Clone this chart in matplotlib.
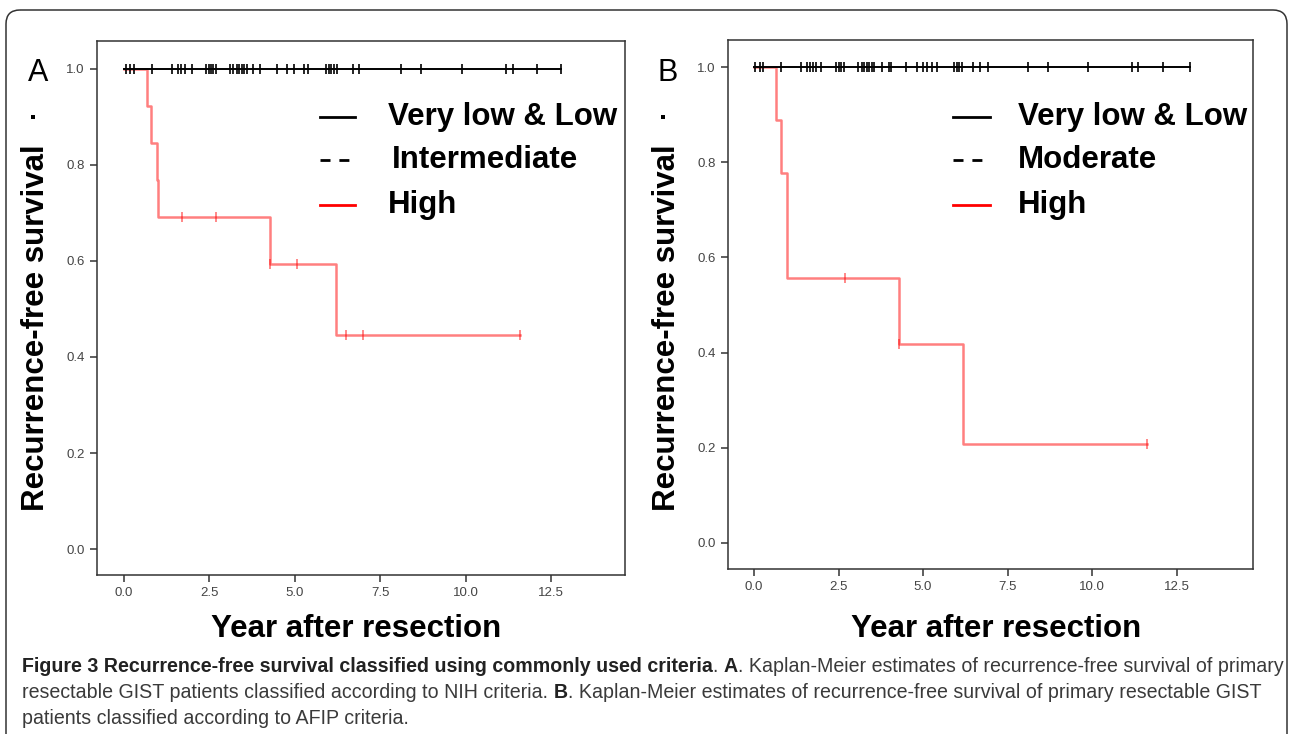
import matplotlib
matplotlib.use("Agg")
import matplotlib.pyplot as plt
from matplotlib import font_manager
from matplotlib.patches import FancyBboxPatch

# ---- data ------------------------------------------------------------------
TICKS_X = [0.0, 2.5, 5.0, 7.5, 10.0, 12.5]
TICKS_Y = [0.0, 0.2, 0.4, 0.6, 0.8, 1.0]

# panel A (NIH criteria)
a_low_end = 12.81
a_low_cens = [0.05, 0.18, 0.30, 0.81, 1.40, 1.59, 1.66, 1.80, 1.98, 2.40, 2.48,
              2.55, 2.62, 2.69, 3.10, 3.18, 3.30, 3.38, 3.45, 3.52, 3.59, 3.79,
              3.98, 4.49, 4.78, 4.98, 5.28, 5.40, 5.91, 5.99, 6.07, 6.16, 6.23,
              6.71, 6.87, 8.11, 8.69, 9.90, 11.18, 11.40, 12.10, 12.81]
a_high_t = [0.0, 0.66, 0.79, 0.98, 0.99, 4.29, 6.20, 11.60]
a_high_s = [1.0, 0.923, 0.846, 0.769, 0.692, 0.594, 0.445, 0.445]
a_high_cens_t = [1.69, 2.68, 4.29, 5.08, 6.50, 6.99, 11.60]
a_high_cens_s = [0.692, 0.692, 0.594, 0.594, 0.445, 0.445, 0.445]
a_labels = ["Very low & Low", "Intermediate", "High"]

# panel B (AFIP criteria)
b_low_end = 12.90
b_low_cens = [0.03, 0.18, 0.28, 0.79, 1.38, 1.58, 1.66, 1.75, 1.83, 1.98, 2.41,
              2.50, 2.57, 2.66, 3.09, 3.18, 3.26, 3.33, 3.41, 3.48, 3.55, 3.79,
              3.98, 4.04, 4.50, 4.81, 4.99, 5.11, 5.26, 5.40, 5.92, 6.00, 6.07,
              6.15, 6.49, 6.68, 6.93, 8.11, 8.70, 9.89, 11.17, 11.37, 12.11, 12.90]
b_high_t = [0.0, 0.65, 0.79, 0.98, 0.99, 4.30, 6.19, 11.61]
b_high_s = [1.0, 0.889, 0.778, 0.667, 0.556, 0.417, 0.208, 0.208]
b_high_cens_t = [2.69, 4.30, 11.61]
b_high_cens_s = [0.556, 0.417, 0.208]
b_labels = ["Very low & Low", "Moderate", "High"]

W, H = 1290, 734
names = {f.name for f in font_manager.fontManager.ttflist}
ARIAL = "Liberation Sans" if "Liberation Sans" in names else "DejaVu Sans"
NARROW = "Liberation Sans Narrow" if "Liberation Sans Narrow" in names else ARIAL
RED = (1.0, 0.0, 0.0, 0.5)
BIG = 22.5

fig = plt.figure(figsize=(W / 100, H / 100), dpi=100, facecolor="white")
ov = fig.add_axes([0, 0, 1, 1])
ov.set_xlim(0, W)
ov.set_ylim(H, 0)
ov.axis("off")

# rounded outer frame (bottom runs off the image)
ov.add_patch(FancyBboxPatch((6, 10), 1281, 760, boxstyle="round,pad=0,rounding_size=14",
                            fill=False, ec="#333333", lw=1.1))


def panel(box, low_end, low_cens, ht, hs, hct, hcs, xlim, ylim):
    l, t, r, b = box
    ax = fig.add_axes([l / W, 1 - b / H, (r - l) / W, (b - t) / H])
    ax.plot([0, low_end], [1.0, 1.0], color="black", lw=1.4, zorder=3)
    ax.plot(low_cens, [1.0] * len(low_cens), ls="none", marker="|", ms=6.5,
            mew=1.2, color="black", zorder=4)
    ax.plot(ht, hs, drawstyle="steps-post", color=RED, lw=1.8, zorder=2)
    ax.plot(hct, hcs, ls="none", marker="|", ms=6.5, mew=1.3, color=RED, zorder=2)
    ax.set_xlim(*xlim)
    ax.set_ylim(*ylim)
    ax.set_xticks(TICKS_X)
    ax.set_xticklabels([f"{v:.1f}" for v in TICKS_X])
    ax.set_yticks(TICKS_Y)
    ax.set_yticklabels([f"{v:.1f}" for v in TICKS_Y])
    ax.tick_params(direction="out", length=5, width=1.1, color="#333333",
                   labelsize=9.5, labelcolor="#444444", pad=4)
    for lab in ax.get_xticklabels() + ax.get_yticklabels():
        lab.set_family(ARIAL)
    for s in ax.spines.values():
        s.set_color("#333333")
        s.set_linewidth(1.1)
    ax.patch.set_alpha(0)
    return ax


panel((97, 41, 625, 575), a_low_end, a_low_cens, a_high_t, a_high_s,
      a_high_cens_t, a_high_cens_s, (-0.79, 14.67), (-0.054, 1.058))
panel((728, 40, 1253, 569), b_low_end, b_low_cens, b_high_t, b_high_s,
      b_high_cens_t, b_high_cens_s, (-0.77, 14.76), (-0.055, 1.057))

# panel letters, stray dots, axis titles
for x, letter, ylab_x, xlab_x in [(38, "A", 36, 356), (668, "B", 667, 996)]:
    ov.text(x, 73, letter, fontsize=22, family=ARIAL, ha="center", va="center")
    ov.plot([x - 5], [117], marker="s", ms=2.2, color="black", mew=0)
    ov.text(ylab_x, 328, "Recurrence-free survival", fontsize=BIG, fontweight="bold",
            family=ARIAL, rotation=90, ha="center", va="center")
    ov.text(xlab_x, 629, "Year after resection", fontsize=BIG, fontweight="bold",
            family=ARIAL, ha="center", va="center")

# legends
rows_y = [117, 160, 205]
for x0, x1, labels, tx in [(320, 355, a_labels, [388, 392, 388]),
                           (953, 990, b_labels, [1018, 1018, 1018])]:
    ov.plot([x0, x1], [rows_y[0]] * 2, lw=2.0, color="black")
    ov.plot([x0, x0 + 30], [rows_y[1]] * 2, lw=2.0, color="black",
            ls=(0, (3.6, 3.2)))
    ov.plot([x0, x1], [rows_y[2]] * 2, lw=2.0, color="red")
    for y, lab, txx in zip(rows_y, labels, tx):
        ov.text(txx, y, lab, fontsize=BIG, fontweight="bold", family=ARIAL,
                ha="left", va="center")

# caption with mixed bold / regular runs
renderer = fig.canvas.get_renderer()


def run_width(s, size, bold):
    t = ov.text(0, 0, "a" + s + "a", fontsize=size, family=NARROW,
                fontweight="bold" if bold else "normal")
    t2 = ov.text(0, 0, "aa", fontsize=size, family=NARROW,
                 fontweight="bold" if bold else "normal")
    w = t.get_window_extent(renderer).width - t2.get_window_extent(renderer).width
    t.remove()
    t2.remove()
    return w


cap_lines = [
    [("Figure 3 Recurrence-free survival classified using commonly used criteria", True),
     (". ", False), ("A", True),
     (". Kaplan-Meier estimates of recurrence-free survival of primary", False)],
    [("resectable GIST patients classified according to NIH criteria. ", False),
     ("B", True),
     (". Kaplan-Meier estimates of recurrence-free survival of primary resectable GIST", False)],
    [("patients classified according to AFIP criteria.", False)],
]
base = 12
w1 = sum(run_width(s, base, b) for s, b in cap_lines[0])
size = base * (1275 - 22) / w1
for y, parts in zip([667, 693, 718], cap_lines):
    x = 22
    for s, b in parts:
        ov.text(x, y, s, fontsize=size, family=NARROW, ha="left", va="center",
                fontweight="bold" if b else "normal",
                color="#222222" if b else "#3a3a3a")
        x += run_width(s, size, b)

fig.savefig("out.png", dpi=100, facecolor="white")
